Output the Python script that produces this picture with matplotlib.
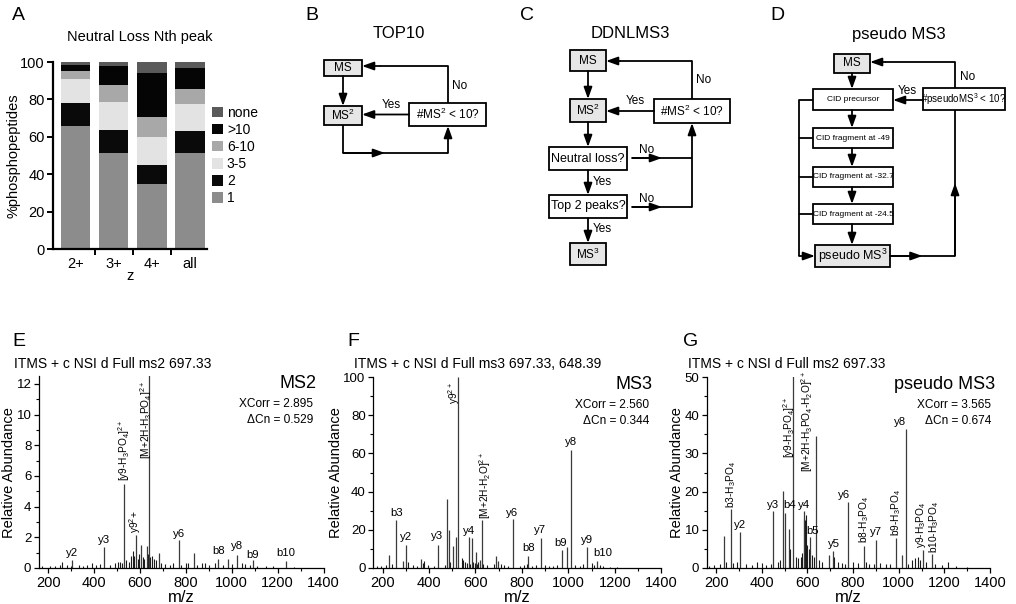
import matplotlib
matplotlib.use('Agg')
import matplotlib.pyplot as plt
from matplotlib.patches import Rectangle
from matplotlib.ticker import MultipleLocator
import numpy as np

plt.rcParams['font.family'] = ['Liberation Sans', 'DejaVu Sans']
plt.rcParams['mathtext.default'] = 'regular'

# ---------------- panel A: neutral loss rank -----------------
charges = ['2+', '3+', '4+', 'all']
nl_bins = ['1', '2', '3-5', '6-10', '>10', 'none']
nl_colors = ['#8c8c8c', '#0a0a0a', '#e3e3e3', '#a8a8a8', '#050505', '#5a5a5a']
frac_1 = [65.7, 51.5, 34.8, 51.2]
frac_2 = [12.5, 12.4, 10.1, 12.0]
frac_3_5 = [12.6, 14.8, 15.1, 14.2]
frac_6_10 = [4.4, 8.9, 10.7, 7.9]
frac_gt10 = [3.0, 10.3, 23.4, 11.5]
frac_none = [1.8, 2.1, 5.9, 3.2]

# ---------------- spectra (m/z, relative abundance) -----------------
ms2_mz = [303, 445, 532, 582, 603, 630, 641, 685, 772, 837, 942, 983, 1023, 1091, 1235]
ms2_int = [0.5, 1.37, 5.48, 2.13, 1.52, 1.46, 100, 0.98, 1.8, 0.98, 0.59, 0.59, 0.87, 0.5, 0.43]
ms2_noise_mz = [175, 210, 230, 250, 259, 280, 300, 335, 350, 370, 390, 410, 425, 470, 490, 505,
                511, 520, 540, 552, 560, 570, 576, 590, 596, 612, 618, 636, 645, 652, 662, 670,
                690, 710, 730, 745, 780, 800, 810, 850, 870, 885, 900, 925, 960, 1000, 1045, 1060,
                1080, 1110, 1150, 1180, 1270]
ms2_noise_int = [0.1, 0.15, 0.1, 0.2, 0.37, 0.2, 0.15, 0.2, 0.15, 0.2, 0.3, 0.2, 0.25, 0.2, 0.35, 0.4,
                 0.37, 0.3, 0.5, 0.4, 0.76, 1.1, 0.8, 0.6, 0.9, 0.7, 0.6, 0.9, 0.7, 0.8, 0.6, 0.5,
                 0.3, 0.25, 0.2, 0.3, 0.2, 0.3, 0.35, 0.2, 0.3, 0.35, 0.2, 0.3, 0.2, 0.25, 0.3, 0.25,
                 0.2, 0.15, 0.1, 0.1, 0.05]

ms3_mz = [228, 258, 289, 299, 365, 440, 479, 486, 504, 515, 526, 571, 584, 602, 619, 627, 687,
          696, 763, 827, 881, 971, 994, 1010, 1082, 1122]
ms3_int = [7.0, 24.9, 3.5, 12.2, 4.7, 12.2, 36.2, 19.7, 11.3, 16.2, 100, 16.2, 15.7, 8.2, 4.3,
           24.9, 6.1, 3.5, 25.6, 6.4, 15.7, 9.6, 10.8, 61.7, 10.8, 3.8]
ms3_noise_mz = [175, 195, 215, 240, 310, 330, 350, 373, 380, 395, 420, 470, 492, 540, 548, 555,
                565, 577, 590, 597, 608, 613, 632, 650, 680, 710, 725, 740, 790, 810, 820, 845,
                860, 900, 915, 935, 950, 1030, 1050, 1065, 1100, 1110, 1135, 1150, 1180, 1210]
ms3_noise_int = [1.0, 0.8, 1.5, 2.0, 3.0, 1.5, 1.0, 2.5, 3.5, 1.5, 1.0, 1.5, 3.0, 5.0, 4.0, 3.0,
                 2.5, 2.0, 3.0, 2.5, 2.0, 3.0, 2.0, 1.5, 2.0, 2.0, 1.5, 1.0, 1.0, 1.5, 2.0, 1.0,
                 1.5, 1.5, 1.0, 1.0, 1.5, 1.5, 1.0, 2.0, 2.5, 1.5, 1.5, 1.0, 0.5, 0.5]

pms3_mz = [235, 264, 305, 448, 492, 503, 518, 538, 587, 613, 638, 694, 711, 777, 847, 899, 990,
           1013, 1034, 1107, 1145]
pms3_int = [8.4, 15.4, 9.4, 15.0, 20.1, 14.3, 10.2, 100, 15.0, 8.1, 34.6, 3.5, 4.5, 17.2, 5.8,
            7.4, 7.8, 3.3, 36.3, 4.8, 3.7]
pms3_noise_mz = [170, 190, 215, 245, 275, 290, 330, 355, 380, 400, 420, 440, 470, 480, 525, 548,
                 560, 570, 578, 583, 590, 595, 600, 605, 620, 628, 650, 665, 718, 735, 750, 765,
                 800, 820, 855, 870, 890, 920, 945, 960, 1040, 1060, 1070, 1085, 1095, 1120, 1160,
                 1190, 1215, 1250, 1300]
pms3_noise_int = [0.5, 0.8, 1.0, 1.5, 1.2, 1.5, 1.0, 0.8, 1.5, 1.2, 0.8, 1.0, 1.5, 2.0, 5.0, 3.0,
                  2.5, 3.0, 4.0, 13.0, 12.5, 14.0, 6.0, 5.0, 3.5, 3.0, 2.0, 1.5, 3.0, 1.5, 1.2, 1.0,
                  1.5, 1.2, 1.5, 1.0, 1.0, 1.2, 1.0, 1.0, 1.0, 2.0, 2.5, 3.0, 2.0, 1.5, 1.0,
                  0.8, 1.5, 0.5, 0.3]

# peak annotations: text, m/z, height of text base, rotation
ms2_labels = [('y2', 303, 0.65, 0), ('y3', 445, 1.52, 0), ('y6', 772, 1.9, 0), ('b8', 942, 0.76, 0),
              ('y8', 1023, 1.09, 0), ('b9', 1091, 0.54, 0), ('b10', 1235, 0.65, 0),
              ('[y9-H$_3$PO$_4$]$^{2+}$', 532, 5.65, 90), ('y9$^{2}$+', 580, 2.25, 90),
              ('[M+2H-H$_3$PO$_4$]$^{2+}$', 625, 7.1, 90)]
ms3_labels = [('b3', 260, 26, 0), ('y2', 299, 13.4, 0), ('y3', 436, 13.9, 0), ('y4', 574, 17, 0),
              ('y6', 759, 26.4, 0), ('b8', 827, 7.8, 0), ('y7', 878, 17.4, 0), ('b9', 967, 10.4, 0),
              ('y8', 1010, 63.5, 0), ('y9', 1082, 12.2, 0), ('b10', 1148, 5.2, 0),
              ('y9$^{2+}$', 506, 86, 90), ('[M+2H-H$_2$O]$^{2+}$', 640, 25.6, 90)]
pms3_labels = [('b3-H$_3$PO$_4$', 264, 15.8, 90), ('y2', 305, 10, 0), ('y3', 448, 15.2, 0),
               ('b4', 521, 15.2, 0), ('y4', 584, 15.2, 0), ('[y9-H$_3$PO$_4$]$^{2+}$', 521, 28.7, 90),
               ('[M+2H-H$_3$PO$_4$-H$_2$O]$^{2+}$', 600, 25, 90), ('b5', 624, 8.4, 0),
               ('y5', 715, 5, 0), ('y6', 759, 17.8, 0), ('b8-H$_3$PO$_4$', 847, 6.5, 90),
               ('y7', 902, 8.1, 0), ('b9-H$_3$PO$_4$', 990, 8.3, 90), ('y8', 1004, 37, 0),
               ('y9-H$_3$PO$_4$', 1099, 5.2, 90), ('b10-H$_3$PO$_4$', 1154, 3.9, 90)]

W, H = 1016, 604
fig = plt.figure(figsize=(W / 100, H / 100), dpi=100)


def px_rect(x0, y0, x1, y1):
    return [x0 / W, 1 - y1 / H, (x1 - x0) / W, (y1 - y0) / H]


# overlay axes in pixel coordinates for letters and flow charts
ov = fig.add_axes([0, 0, 1, 1])
ov.set_xlim(0, W)
ov.set_ylim(H, 0)
ov.axis('off')

for letter, x, y in [('A', 12, 15), ('B', 305, 15), ('C', 520, 15), ('D', 770, 15),
                     ('E', 12, 342), ('F', 347, 342), ('G', 683, 342)]:
    ov.text(x, y, letter, fontsize=14, ha='left', va='center')

# ---------------- panel A -----------------
axA = fig.add_axes(px_rect(53, 62, 207, 249))
xpos = np.arange(len(charges))
bottom = np.zeros(len(charges))
for vals, col, lab in zip([frac_1, frac_2, frac_3_5, frac_6_10, frac_gt10, frac_none], nl_colors, nl_bins):
    axA.bar(xpos, vals, 0.77, bottom=bottom, color=col, label=lab, edgecolor='none')
    bottom += np.array(vals)
axA.set_xlim(-0.6, 3.45)
axA.set_ylim(0, 100)
axA.spines[['top', 'right']].set_visible(False)
axA.spines[['left', 'bottom']].set_linewidth(1.6)
axA.set_yticks([0, 20, 40, 60, 80, 100])
axA.set_xticks([0.5, 1.5, 2.5])
axA.set_xticklabels([])
axA.set_xticks(xpos, minor=True)
axA.set_xticklabels(charges, minor=True)
axA.tick_params(axis='both', which='major', direction='out', length=4, width=1.4, labelsize=10.5, pad=2)
axA.tick_params(axis='x', which='minor', length=0, labelsize=10.5, pad=6)
axA.set_ylabel('%phosphopeptides', fontsize=10.5)
axA.yaxis.set_label_coords(-0.214, 0.5)
axA.set_xlabel('z', fontsize=10.5, labelpad=-2)
h, l = axA.get_legend_handles_labels()
axA.legend(h[::-1], l[::-1], loc='center left', bbox_to_anchor=(1.03, 0.5), frameon=False,
           fontsize=10, handlelength=0.8, handleheight=0.8, handletextpad=0.3,
           labelspacing=0.22, borderpad=0, borderaxespad=0)
ov.text(140, 37, 'Neutral Loss Nth peak', fontsize=10.5, ha='center', va='center')


# ---------------- flow chart helpers -----------------
def box(x0, y0, x1, y1, text, fill='white', fs=8.5):
    ov.add_patch(Rectangle((x0, y0), x1 - x0, y1 - y0, facecolor=fill, edgecolor='black', lw=1.3))
    ov.text((x0 + x1) / 2, (y0 + y1) / 2, text, fontsize=fs, ha='center', va='center')


def arrow(p0, p1):
    ov.annotate('', xy=p1, xytext=p0,
                arrowprops=dict(arrowstyle='-|>,head_length=0.7,head_width=0.25', lw=1.3,
                                color='black', shrinkA=0, shrinkB=0, mutation_scale=10))


def line(*pts):
    xs, ys = zip(*pts)
    ov.plot(xs, ys, color='black', lw=1.3, solid_capstyle='butt')


def mid_arrow(p0, p1, frac=0.5):
    line(p0, p1)
    arrow(p0, (p0[0] + (p1[0] - p0[0]) * frac, p0[1] + (p1[1] - p0[1]) * frac))


gray = '#e6e6e6'

# ---------------- panel B -----------------
ov.text(399, 34, 'TOP10', fontsize=12, ha='center', va='center')
box(324, 60, 362, 76, 'MS', gray)
box(324, 106, 362, 125, 'MS$^2$', gray)
box(409, 103, 486, 126, '#MS$^2$ < 10?')
arrow((343, 76), (343, 106))
arrow((409, 114.5), (362, 114.5))
ov.text(391, 105, 'Yes', fontsize=8.5, ha='center', va='center')
line((448, 103), (448, 66), (380, 66))
arrow((380, 66), (362, 66))
ov.text(460, 86, 'No', fontsize=8.5, ha='center', va='center')
line((343, 125), (343, 153))
mid_arrow((343, 153), (448, 153), 0.4)
arrow((448, 153), (448, 126))

# ---------------- panel C -----------------
ov.text(630, 33, 'DDNLMS3', fontsize=12, ha='center', va='center')
box(570, 50, 606, 71, 'MS', gray)
box(570, 99, 606, 122, 'MS$^2$', gray)
box(654, 99, 730, 123, '#MS$^2$ < 10?')
box(549, 147, 627, 170, 'Neutral loss?', fs=9)
box(549, 195, 627, 218, 'Top 2 peaks?', fs=9)
box(570, 243, 606, 265, 'MS$^3$', gray)
arrow((588, 71), (588, 99))
arrow((588, 122), (588, 147))
arrow((588, 170), (588, 195))
arrow((588, 218), (588, 243))
ov.text(593, 182, 'Yes', fontsize=8.5, ha='left', va='center')
ov.text(593, 229, 'Yes', fontsize=8.5, ha='left', va='center')
mid_arrow((632, 158), (692, 158))
mid_arrow((632, 207), (692, 207))
ov.text(647, 150, 'No', fontsize=8.5, ha='center', va='center')
ov.text(647, 199, 'No', fontsize=8.5, ha='center', va='center')
arrow((692, 207), (692, 123))
line((692, 99), (692, 61), (620, 61))
arrow((620, 61), (606, 61))
ov.text(704, 80, 'No', fontsize=8.5, ha='center', va='center')
arrow((654, 111), (606, 111))
ov.text(635, 101, 'Yes', fontsize=8.5, ha='center', va='center')

# ---------------- panel D -----------------
ov.text(899, 34, 'pseudo MS3', fontsize=12, ha='center', va='center')
box(834, 54, 870, 73, 'MS', gray)
box(813, 89, 893, 110, 'CID precursor', fs=6.0)
box(923, 88, 1005, 110, '#pseudoMS$^3$ < 10?', fs=7)
box(813, 128, 893, 148, 'CID fragment at -49', fs=6.0)
box(813, 167, 893, 187, 'CID fragment at -32.7', fs=6.0)
box(813, 204, 893, 224, 'CID fragment at -24.5', fs=6.0)
box(815, 245, 890, 267, 'pseudo MS$^3$', gray, fs=9)
for y0, y1 in [(73, 89), (110, 128), (148, 167), (187, 204), (224, 245)]:
    arrow((852, y0), (852, y1))
line((813, 100), (799, 100), (799, 256))
for yb in [138, 177, 214]:
    line((813, yb), (799, yb))
arrow((799, 256), (815, 256))
mid_arrow((890, 256), (955, 256))
mid_arrow((955, 256), (955, 110))
line((955, 88), (955, 62), (885, 62))
arrow((885, 62), (870, 62))
ov.text(968, 77, 'No', fontsize=8.5, ha='center', va='center')
arrow((923, 100), (893, 100))
ov.text(907, 91, 'Yes', fontsize=8.5, ha='center', va='center')


# ---------------- spectra -----------------
def spectrum(rect, mz, inten, nmz, nint, ymax, ymaj, title, title_x, tag, tag_x, tag_fs,
             xcorr, dcn, labels, ylab_x):
    ax = fig.add_axes(rect)
    ax.vlines(nmz, 0, nint, color='#1a1a1a', lw=0.8)
    ax.vlines(mz, 0, inten, color='#3a3a3a', lw=0.9)
    ax.set_xlim(160, 1400)
    ax.set_ylim(0, ymax)
    ax.spines[['top', 'right']].set_visible(False)
    ax.spines[['left', 'bottom']].set_linewidth(0.9)
    ax.xaxis.set_major_locator(MultipleLocator(200))
    ax.xaxis.set_minor_locator(MultipleLocator(100))
    ax.yaxis.set_major_locator(MultipleLocator(ymaj))
    ax.yaxis.set_minor_locator(MultipleLocator(ymaj / 2))
    ax.tick_params(which='major', direction='out', length=3.5, width=0.9, pad=2)
    ax.tick_params(axis='x', labelsize=10.5)
    ax.tick_params(axis='y', labelsize=9.5)
    ax.tick_params(which='minor', direction='out', length=2, width=0.8)
    ax.set_xlabel('m/z', fontsize=12, labelpad=0)
    ax.set_ylabel('Relative Abundance', fontsize=10.5)
    ax.yaxis.set_label_coords(ylab_x, 0.5)
    for text, x, y, rot in labels:
        ax.text(x, y, text, fontsize=7.3 if rot else 8.2, rotation=rot, ha='center', va='bottom')
    ax.text(tag_x, 0.962, tag, transform=ax.transAxes, fontsize=tag_fs, ha='right', va='center')
    ax.text(tag_x - 0.013, 0.855, 'XCorr = ' + xcorr, transform=ax.transAxes, fontsize=8.6,
            ha='right', va='center')
    ax.text(tag_x - 0.013, 0.77, '\u0394Cn = ' + dcn, transform=ax.transAxes, fontsize=8.6,
            ha='right', va='center')
    ov.text(title_x, 364, title, fontsize=10, ha='left', va='center')
    return ax


spectrum(px_rect(39, 376.3, 323.5, 568), ms2_mz, ms2_int, ms2_noise_mz, ms2_noise_int, 12.5, 2,
         'ITMS + c NSI d Full ms2 697.33', 14, 'MS2', 0.976, 13, '2.895', '0.529', ms2_labels, -0.08)
spectrum(px_rect(373.3, 377, 661.2, 568), ms3_mz, ms3_int, ms3_noise_mz, ms3_noise_int, 100, 20,
         'ITMS + c NSI d Full ms3 697.33, 648.39', 354, 'MS3', 0.971, 13, '2.560', '0.344', ms3_labels,
         -0.105)
spectrum(px_rect(707, 377, 990, 568), pms3_mz, pms3_int, pms3_noise_mz, pms3_noise_int, 50, 10,
         'ITMS + c NSI d Full ms2 697.33', 688, 'pseudo MS3', 1.018, 13, '3.565', '0.674', pms3_labels,
         -0.08)

fig.savefig('out.png', dpi=100)
